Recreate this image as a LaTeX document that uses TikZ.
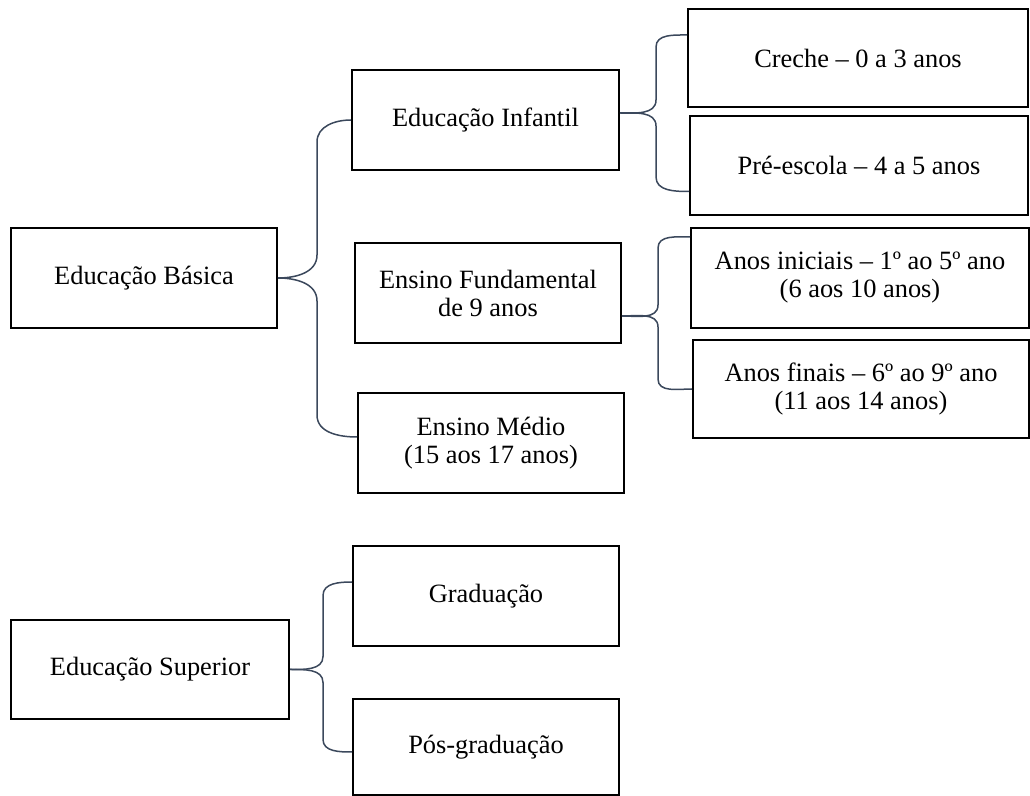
\documentclass[tikz,border=0pt]{standalone}
\usepackage{fontspec}
\setmainfont{Liberation Serif}
\usetikzlibrary{calc}
\definecolor{bracecol}{RGB}{59,72,92}
\begin{document}
\begin{tikzpicture}[x=0.5pt,y=-0.5pt]
\tikzstyle{every node}+=[inner sep=0pt, font=\fontsize{13.2}{14}\selectfont, align=center]
\tikzstyle{box}=[draw=black, line width=1pt, rectangle]
\tikzstyle{brace}=[draw=bracecol, line width=0.75pt]
\useasboundingbox (0,0) rectangle (1030,796);
\node [box, minimum width=133pt, minimum height=50pt] (basica) at (144,278) {Educação Básica};
\node [box, minimum width=133.5pt, minimum height=50pt] (infantil) at (485.5,120) {Educação Infantil};
\node [box, minimum width=133pt, minimum height=50pt] (fundamental) at (488,293) {Ensino Fundamental\\de 9 anos};
\node [box, minimum width=133pt, minimum height=50pt] (medio) at (491,443) {Ensino Médio\\(15 aos 17 anos)};
\node [box, minimum width=170pt, minimum height=49pt] (creche) at (858,58) {Creche – 0 a 3 anos};
\node [box, minimum width=169pt, minimum height=49.5pt] (preescola) at (859,165.5) {Pré-escola – 4 a 5 anos};
\node [box, minimum width=169pt, minimum height=50pt] (iniciais) at (860,278) {Anos iniciais – 1º ao 5º ano\\(6 aos 10 anos)};
\node [box, minimum width=168pt, minimum height=49pt] (finais) at (861,389) {Anos finais – 6º ao 9º ano\\(11 aos 14 anos)};
\node [box, minimum width=139pt, minimum height=49.5pt] (superior) at (150,669.5) {Educação Superior};
\node [box, minimum width=133pt, minimum height=50pt] (graduacao) at (486,596) {Graduação};
\node [box, minimum width=133pt, minimum height=48pt] (pos) at (486,747) {Pós-graduação};
% chaves
\draw [brace] (basica.east) to[out=0,in=-90] ++(39,-23) -- ++(0,-113) to[out=90,in=180] (infantil.west);
\draw [brace] (basica.east) to[out=0,in=90] ++(39,23) -- ++(0,114) to[out=-90,in=180] ([yshift=3pt]medio.west);
\draw [brace] ([yshift=3.5pt]infantil.east) to[out=0,in=-90] ++(36,-13) -- ++(0,-53) to[out=90,in=180] ([yshift=11.5pt]creche.west);
\draw [brace] ([yshift=3.5pt]infantil.east) to[out=0,in=90] ++(36,13) -- ++(0,51) to[out=-90,in=180] ([yshift=-13pt]preescola.west);
\draw [brace] ([yshift=-11.5pt]fundamental.east) to[out=0,in=-90] ++(36,-11) -- ++(0,-57) to[out=90,in=180] ([yshift=20.5pt]iniciais.west);
\draw [brace] ([yshift=-11.5pt]fundamental.east) to[out=0,in=90] ++(36,11) -- ++(0,52) to[out=-90,in=180] (finais.west);
\draw [brace] (superior.east) to[out=0,in=-90] ++(33,-13) -- ++(0,-61) to[out=90,in=180] ([yshift=7pt]graduacao.west);
\draw [brace] (superior.east) to[out=0,in=90] ++(33,13) -- ++(0,57) to[out=-90,in=180] ([yshift=-2.5pt]pos.west);
\end{tikzpicture}
\end{document}
